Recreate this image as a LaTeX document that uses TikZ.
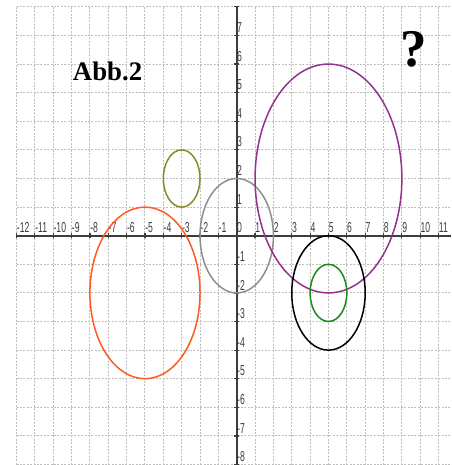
\documentclass[tikz,border=0pt]{standalone}
\usepackage{fontspec}
\setmainfont{Liberation Serif}
\newfontfamily\ticksfont[FakeStretch=0.6]{Liberation Sans}
\definecolor{gridgray}{HTML}{BEBEBE}
\definecolor{axisgray}{HTML}{3C3C3C}
\definecolor{ringgray}{HTML}{8F8F8F}
\definecolor{ringolive}{HTML}{8A8A26}
\definecolor{ringorange}{HTML}{FF5A1F}
\definecolor{ringpurple}{HTML}{93318E}
\definecolor{ringgreen}{HTML}{1A8A1A}
\tikzset{gridline/.style={draw=gridgray,line width=0.5pt,dash pattern=on 1pt off 0.7pt,
  xstep=1,ystep=1},
  axisline/.style={draw=axisgray,line width=0.8pt},
  tickmark/.style={draw=axisgray,line width=0.6pt},
  ticklabel/.style={anchor=south west,inner sep=0pt,yshift=1.2pt,text=axisgray,
  font=\ticksfont\fontsize{7.2}{7.2}\selectfont},
  ring/.style={line width=0.75pt}}

\begin{document}
\begin{tikzpicture}[x=9.175pt,y=14.3pt]
\useasboundingbox (-12.9,-8.017) rectangle (11.678,8.241);
\draw[gridline] (-12,-8) grid (11.678,8);
\coordinate (xmin) at (-12,0);
\coordinate (xmax) at (11.678,0);
\coordinate (ymin) at (0,-8);
\coordinate (ymax) at (0,8);
\draw[axisline] (xmin) -- (xmax);
\draw[axisline] (ymin) -- (ymax);
\foreach \i in {-12,...,11}
  \draw[tickmark] ([yshift=-1.25pt]\i,0) -- ([yshift=1.25pt]\i,0);
\foreach \i in {-8,...,8}
  \draw[tickmark] ([xshift=-1.25pt]0,\i) -- ([xshift=1.25pt]0,\i);
\foreach \i in {-12,...,11}
  \node[ticklabel] (xlab\i) at (\i,0) {\i};
\foreach \i in {-8,...,-1,1,2,...,7}
  \node[ticklabel] (ylab\i) at (0,\i) {\i};
\draw[ring,ringgray] (0,0) circle[radius=2];
\draw[ring,ringolive] (-3,2) circle[radius=1];
\draw[ring,ringorange] (-5,-2) circle[radius=3];
\draw[ring,ringpurple] (5,2) circle[radius=4];
\draw[ring,black] (5,-2) circle[radius=2];
\draw[ring,ringgreen] (5,-2) circle[radius=1];
\node[font=\bfseries\fontsize{13.4}{16}\selectfont,anchor=base] (title) at (-7.04,5.42) {Abb.2};
\node[font=\bfseries\fontsize{26.5}{30}\selectfont,anchor=base] (quest) at (9.635,5.91) {?};
\end{tikzpicture}
\end{document}
